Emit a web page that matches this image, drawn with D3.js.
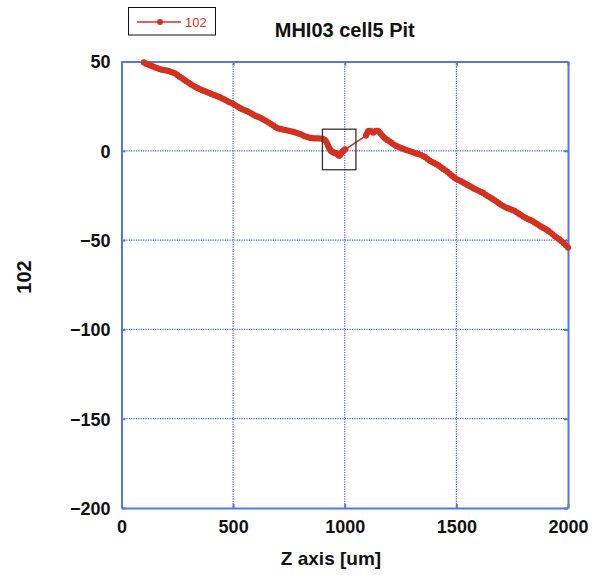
<!DOCTYPE html>
<html>
<head>
<meta charset="utf-8">
<script src="https://cdn.jsdelivr.net/npm/d3@7"></script>
<style>
  html, body { margin: 0; padding: 0; background: #fff; }
  svg { display: block; font-family: "Liberation Sans", Arial, sans-serif; }
</style>
</head>
<body>
<svg id="chart" width="592" height="575"></svg>
<script>
// Profile along Z (um) for channel 102
const zPositions = [
  100, 110, 120, 130, 140, 150, 160, 170, 180, 190,
  200, 210, 220, 230, 240, 250, 260, 270, 280, 290,
  300, 310, 320, 330, 340, 350, 360, 370, 380, 390,
  400, 410, 420, 430, 440, 450, 460, 470, 480, 490,
  500, 510, 520, 530, 540, 550, 560, 570, 580, 590,
  600, 610, 620, 630, 640, 650, 660, 670, 680, 690,
  700, 710, 720, 730, 740, 750, 760, 770, 780, 790,
  800, 810, 820, 830, 840, 850, 860, 870, 880, 890,
  900, 910, 915, 920, 925, 930, 935, 940, 945, 950,
  955, 960, 965, 970, 975, 980, 985, 990, 995, 1003,
  1095, 1100, 1105, 1110, 1115, 1120, 1128, 1134, 1140, 1145,
  1150, 1158, 1165, 1172, 1180, 1190, 1200, 1210, 1220, 1230,
  1240, 1250, 1260, 1270, 1280, 1290, 1300, 1310, 1320, 1330,
  1340, 1350, 1360, 1370, 1380, 1390, 1400, 1410, 1420, 1430,
  1440, 1450, 1460, 1470, 1480, 1490, 1500, 1510, 1520, 1530,
  1540, 1550, 1560, 1570, 1580, 1590, 1600, 1610, 1620, 1630,
  1640, 1650, 1660, 1670, 1680, 1690, 1700, 1710, 1720, 1730,
  1740, 1750, 1760, 1770, 1780, 1790, 1800, 1810, 1820, 1830,
  1840, 1850, 1860, 1870, 1880, 1890, 1900, 1910, 1920, 1930,
  1940, 1950, 1960, 1970, 1980, 1990, 2000
];
const values102 = [
  49.5, 48.8, 48.3, 47.8, 47.3, 46.7, 46.3, 45.8, 45.4, 45.2,
  45.0, 44.7, 44.2, 43.8, 43.4, 42.5, 41.5, 40.7, 39.8, 39.0,
  38.2, 37.3, 36.5, 35.8, 35.2, 34.6, 34.0, 33.5, 33.0, 32.5,
  32.0, 31.5, 31.0, 30.5, 30.0, 29.4, 28.8, 28.1, 27.4, 26.9,
  26.3, 25.5, 24.8, 24.0, 23.3, 22.8, 22.3, 21.7, 21.0, 20.3,
  19.6, 19.1, 18.6, 17.9, 17.2, 16.5, 15.8, 15.0, 14.2, 13.3,
  12.6, 12.3, 12.0, 11.8, 11.5, 11.2, 10.9, 10.6, 10.2, 9.8,
  9.4, 8.8, 8.2, 7.8, 7.4, 7.2, 7.0, 7.0, 7.0, 6.9,
  6.8, 6.2, 5.5, 4.3, 3.0, 1.6, 0.5, -0.2, -0.6, -0.9,
  -1.2, -1.4, -1.6, -2.2, -2.8, -2.2, -1.2, -0.5, 0.2, 0.8,
  8.5, 9.8, 11.0, 11.2, 11.2, 10.8, 10.2, 10.8, 11.2, 11.2,
  11.0, 10.0, 9.0, 8.0, 7.0, 6.1, 5.3, 4.4, 3.5, 2.8,
  2.2, 1.7, 1.2, 0.7, 0.3, -0.1, -0.6, -1.0, -1.5, -1.8,
  -2.2, -2.8, -3.5, -4.5, -5.5, -6.2, -6.8, -7.5, -8.2, -9.1,
  -10.0, -10.9, -11.8, -12.9, -13.9, -14.9, -15.8, -16.4, -17.0, -17.7,
  -18.4, -19.1, -19.8, -20.5, -21.2, -21.8, -22.4, -23.0, -23.6, -24.5,
  -25.3, -26.0, -26.8, -27.6, -28.4, -29.3, -30.2, -30.9, -31.6, -32.1,
  -32.6, -33.1, -33.6, -34.4, -35.2, -36.0, -36.8, -37.5, -38.2, -38.7,
  -39.3, -40.1, -40.9, -41.7, -42.5, -43.2, -43.9, -44.7, -45.6, -46.6,
  -47.7, -48.6, -49.5, -50.5, -51.6, -52.9, -54.2
];
const xTicks = [0, 500, 1000, 1500, 2000];
const yTicks = [50, 0, -50, -100, -150, -200];
// Highlighted pit region [x0, x1, y0, y1]
const pitBox = [900, 1050, -10.6, 12.1];

const seriesName = "102";
const chartTitle = "MHI03 cell5 Pit";
const xLabel = "Z axis [um]";
const yLabel = "102";

const red = "#d4311f";
const frameBlue = "#5577e6";
const gridBlue = "#3d63e8";

const svg = d3.select("#chart");
const m = { left: 121.5, right: 568, top: 61.5, bottom: 508 };

const x = d3.scaleLinear().domain([0, 2000]).range([m.left, m.right]);
const y = d3.scaleLinear().domain([-200, 50]).range([m.bottom, m.top]);

// Dotted grid
const grid = svg.append("g");
grid.selectAll("line.gx").data(xTicks.slice(1, -1)).enter().append("line")
  .attr("x1", d => x(d)).attr("x2", d => x(d))
  .attr("y1", m.top).attr("y2", m.bottom)
  .attr("stroke", gridBlue).attr("stroke-width", 1.2).attr("stroke-dasharray", "1.2,1.2");
grid.selectAll("line.gy").data(yTicks.slice(1, -1)).enter().append("line")
  .attr("y1", d => y(d)).attr("y2", d => y(d))
  .attr("x1", m.left).attr("x2", m.right)
  .attr("stroke", gridBlue).attr("stroke-width", 1.2).attr("stroke-dasharray", "1.2,1.2");

// Axes (ticks pointing inward on all four sides)
const tickLen = 4;
const axB = svg.append("g").attr("transform", `translate(0,${m.bottom})`)
  .call(d3.axisBottom(x).tickValues(xTicks).tickSizeInner(-tickLen).tickSizeOuter(0).tickPadding(12).tickFormat(d3.format("d")));
const axL = svg.append("g").attr("transform", `translate(${m.left},0)`)
  .call(d3.axisLeft(y).tickValues(yTicks).tickSizeInner(-tickLen).tickSizeOuter(0).tickPadding(11)
    .tickFormat(d => d < 0 ? "\u2212" + Math.abs(d) : String(d)));
const axT = svg.append("g").attr("transform", `translate(0,${m.top})`)
  .call(d3.axisTop(x).tickValues(xTicks).tickSizeInner(-tickLen).tickSizeOuter(0).tickFormat(""));
const axR = svg.append("g").attr("transform", `translate(${m.right},0)`)
  .call(d3.axisRight(y).tickValues(yTicks).tickSizeInner(-tickLen).tickSizeOuter(0).tickFormat(""));

[axB, axL, axT, axR].forEach(a => {
  a.select(".domain").attr("stroke", frameBlue).attr("stroke-width", 2);
  a.selectAll(".tick line").attr("stroke", frameBlue).attr("stroke-width", 2);
  a.selectAll(".tick text").attr("fill", "#111").attr("font-size", 18).attr("font-weight", "bold")
    .attr("font-family", "'Liberation Sans', Arial, sans-serif");
});
axB.selectAll(".tick text").attr("dy", "0.71em");
axL.selectAll(".tick text").attr("dy", "0.36em");

// Data series: thin connecting line plus dense round markers
const pts = zPositions.map((z, i) => [z, values102[i]]);
const line = d3.line().x(d => x(d[0])).y(d => y(d[1]));
svg.append("path").datum(pts)
  .attr("d", line).attr("fill", "none").attr("stroke", red).attr("stroke-width", 1.5);
svg.append("g").selectAll("circle").data(pts).enter().append("circle")
  .attr("cx", d => x(d[0])).attr("cy", d => y(d[1])).attr("r", 3.1)
  .attr("fill", red);

// Pit marker box
svg.append("rect")
  .attr("x", x(pitBox[0])).attr("y", y(pitBox[3]))
  .attr("width", x(pitBox[1]) - x(pitBox[0])).attr("height", y(pitBox[2]) - y(pitBox[3]))
  .attr("fill", "none").attr("stroke", "#333").attr("stroke-width", 1.3);

// Title
svg.append("text").attr("x", (m.left + m.right) / 2).attr("y", 37)
  .attr("text-anchor", "middle").attr("font-size", 20).attr("font-weight", "bold").attr("fill", "#111")
  .text(chartTitle);

// Axis titles
svg.append("text").attr("x", 331).attr("y", 565)
  .attr("text-anchor", "middle").attr("font-size", 19).attr("font-weight", "bold").attr("fill", "#111")
  .text(xLabel);
svg.append("text").attr("transform", "translate(31,277) rotate(-90)")
  .attr("text-anchor", "middle").attr("font-size", 20).attr("font-weight", "bold").attr("fill", "#111")
  .text(yLabel);

// Legend
const lg = svg.append("g");
lg.append("rect").attr("x", 128.5).attr("y", 7.5).attr("width", 87).attr("height", 27.5)
  .attr("fill", "#fff").attr("stroke", "#111").attr("stroke-width", 1);
lg.append("line").attr("x1", 137).attr("x2", 181).attr("y1", 22).attr("y2", 22)
  .attr("stroke", red).attr("stroke-width", 1.3);
lg.append("circle").attr("cx", 160).attr("cy", 22).attr("r", 3).attr("fill", red);
lg.append("text").attr("x", 185).attr("y", 26.5).attr("font-size", 13).attr("fill", red)
  .text(seriesName);
</script>
</body>
</html>
